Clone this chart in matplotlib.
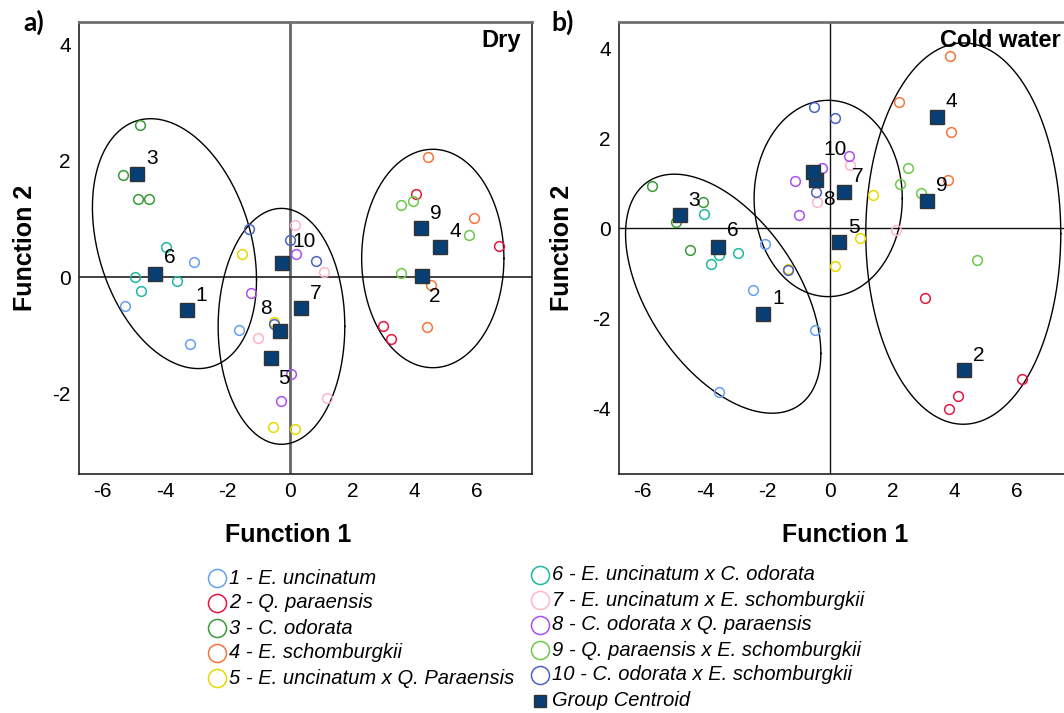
import numpy as np
import matplotlib.pyplot as plt
from matplotlib.lines import Line2D

plt.rcParams['font.family'] = ['Liberation Sans', 'DejaVu Sans']
plt.rcParams['axes.unicode_minus'] = False

labels = ["1 - E. uncinatum", "2 - Q. paraensis", "3 - C. odorata",
          "4 - E. schomburgkii", "5 - E. uncinatum x Q. Paraensis",
          "6 - E. uncinatum x C. odorata", "7 - E. uncinatum x E. schomburgkii",
          "8 - C. odorata x Q. paraensis", "9 - Q. paraensis x E. schomburgkii",
          "10 - C. odorata x E. schomburgkii"]
colors = ["#64a0f2", "#e5173f", "#3a9a3a", "#f7743a", "#e8d800",
          "#1fb8a0", "#ffb5c9", "#a950f0", "#6cc94a", "#4a62c2"]

# Dry: 4 samples per group (function 1, function 2)
dry_x = [[-3.06, -5.28, -3.21, -1.62], [4.03, 6.69, 3.00, 3.23],
         [-4.81, -5.34, -4.88, -4.52], [4.42, 5.91, 4.51, 4.41],
         [-1.55, -0.53, 0.16, -0.50], [-3.96, -4.97, -3.61, -4.76],
         [0.17, 1.09, -1.01, 1.19], [-1.26, 0.21, 0.03, -0.27],
         [3.57, 3.96, 5.74, 3.56], [-1.30, 0.00, 0.85, -0.50]]
dry_y = [[0.26, -0.50, -1.14, -0.90], [1.43, 0.54, -0.84, -1.07],
         [2.62, 1.76, 1.34, 1.34], [2.07, 1.01, -0.14, -0.86],
         [0.40, -2.58, -2.60, -0.77], [0.52, 0.01, -0.07, -0.23],
         [0.89, 0.08, -1.04, -2.07], [-0.27, 0.40, -1.67, -2.13],
         [1.24, 1.31, 0.73, 0.07], [0.82, 0.64, 0.28, -0.80]]

# Cold water
cold_x = [[-2.07, -2.48, -0.48, -3.56], [3.06, 6.16, 4.09, 3.83],
          [-5.70, -4.07, -4.92, -4.49], [3.84, 2.22, 3.87, 3.78],
          [1.38, 0.96, 0.17, -1.35], [-4.04, -3.56, -3.81, -2.95],
          [0.64, -0.42, 2.13, -0.52], [0.61, -0.24, -1.12, -0.98],
          [2.50, 2.26, 2.91, 4.73], [-0.52, 0.15, -0.46, -1.35]]
cold_y = [[-0.35, -1.38, -2.26, -3.64], [-1.54, -3.35, -3.73, -4.01],
          [0.94, 0.58, 0.13, -0.48], [3.83, 2.81, 2.14, 1.06],
          [0.73, -0.21, -0.85, -0.91], [0.32, -0.60, -0.80, -0.56],
          [1.41, 0.59, -0.04, 1.23], [1.61, 1.34, 1.04, 0.30],
          [1.33, 0.99, 0.79, -0.70], [2.69, 2.44, 0.80, -0.93]]

# cluster ellipses: centre x, centre y, half-width, half-height, cos(phase)
dry_ell = [(-3.70, 0.575, 2.63, 2.145, -0.29), (-0.27, -0.845, 2.03, 2.025, 0.0),
           (4.58, 0.32, 2.28, 1.875, 0.0)]
cold_ell = [(-3.42, -1.455, 3.13, 2.655, -0.50), (-0.055, 0.66, 2.375, 2.18, 0.0),
            (4.275, -0.12, 3.125, 4.235, 0.0)]

# centroid label offsets (pixels)
dry_off = [(14, 15), (13, -20), (15, 16), (15, 15), (13, -21),
           (15, 16), (15, 15), (-14, 22), (15, 15), (22, 22)]
cold_off = [(15, 16), (15, 15), (14, 15), (14, 16), (15, 15),
            (15, 16), (14, 16), (13, -20), (15, 16), (22, 22)]

W, H = 1064, 713
fig = plt.figure(figsize=(W / 100, H / 100), dpi=100)


def fx(px):
    return px / W


def fy(py):
    return 1 - py / H


def panel(left, xs, ys, ells, offs, ylim, yticks, title, tx, ha, zcol, zlw):
    ax = fig.add_axes([fx(left), fy(474), 453 / W, 452 / H])
    ax.set_xlim(-6.76, 7.76)
    ax.set_ylim(*ylim)
    ax.axvline(0, color=zcol[0], lw=zlw[0], zorder=1)
    ax.axhline(0, color=zcol[1], lw=zlw[1], zorder=1)
    t = np.linspace(0, 2 * np.pi, 300)
    for cx, cy, a, b, c in ells:
        ph = np.arccos(c)
        ax.plot(cx + a * np.cos(t), cy + b * np.cos(t + ph), color="black", lw=1, zorder=2)
    for i in range(10):
        ax.plot(xs[i], ys[i], "o", ms=7, mfc="none", mec=colors[i], mew=1.1, zorder=3)
    for i in range(10):
        mx, my = np.mean(xs[i]), np.mean(ys[i])
        ax.plot(mx, my, "s", ms=10.5, mfc="#073f75", mec="#333333", mew=1, zorder=4)
        ax.annotate(str(i + 1), (mx, my), xytext=offs[i], textcoords="offset pixels",
                    ha="center", va="center", fontsize=15, zorder=5)
    ax.set_xticks([-6, -4, -2, 0, 2, 4, 6])
    ax.set_yticks(yticks)
    ax.tick_params(length=0, labelsize=15, pad=6)
    for s in ax.spines.values():
        s.set_color("#222222")
        s.set_linewidth(1.2)
    ax.spines["top"].set_color("#707070")
    ax.spines["top"].set_linewidth(2)
    ax.text(tx, 0.96, title, transform=ax.transAxes, ha=ha, va="center",
            fontsize=17, fontweight="bold")
    return ax


panel(79, dry_x, dry_y, dry_ell, dry_off, (-3.38, 4.38), [-2, 0, 2, 4], "Dry", 0.975, "right",
      ("#666666", "#333333"), (2, 1.3))
panel(619, cold_x, cold_y, cold_ell, cold_off, (-5.46, 4.58), [-4, -2, 0, 2, 4], "Cold water",
      0.709, "left", ("#111111", "#111111"), (1, 1))

fig.text(fx(34), fy(22), "a)", fontsize=19, fontweight="bold", family="Lato", ha="center", va="center")
fig.text(fx(563), fy(22), "b)", fontsize=19, fontweight="bold", family="Lato", ha="center", va="center")
fig.text(fx(25), fy(248), "Function 2", rotation=90, fontsize=18, fontweight="bold", ha="center", va="center")
fig.text(fx(562), fy(248), "Function 2", rotation=90, fontsize=18, fontweight="bold", ha="center", va="center")
fig.text(fx(288), fy(535), "Function 1", fontsize=18, fontweight="bold", ha="center", va="center")
fig.text(fx(845), fy(535), "Function 1", fontsize=18, fontweight="bold", ha="center", va="center")

# legend, two columns
for i in range(10):
    if i < 5:
        cx, ty = 217, 578 + 25 * i
    else:
        cx, ty = 540, 575 + 25 * (i - 5)
    fig.add_artist(Line2D([fx(cx)], [fy(ty)], marker="o", ms=13, mfc="none",
                          mec=colors[i], mew=1.1, transform=fig.transFigure))
    fig.text(fx(cx + 12), fy(ty), labels[i], fontsize=14.5, style="italic", va="center")
fig.add_artist(Line2D([fx(540)], [fy(701)], marker="s", ms=9, mfc="#073f75",
                      mec="#333333", mew=1, transform=fig.transFigure))
fig.text(fx(552), fy(701), "Group Centroid", fontsize=14.5, style="italic", va="center")

fig.savefig("out.png", dpi=100)
